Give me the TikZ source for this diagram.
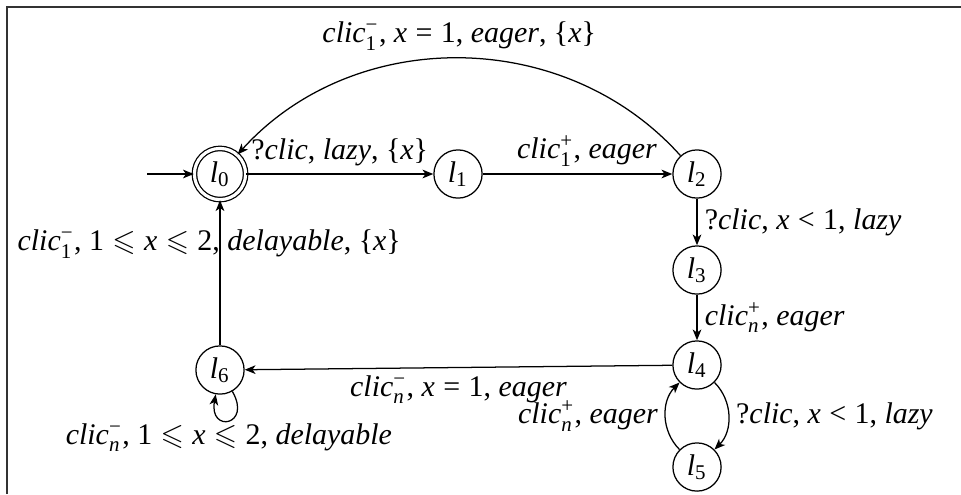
\documentclass[tikz,border=0pt]{standalone}
\usepackage{amsmath,amssymb}
\usepackage{fontspec}
\setmainfont{Liberation Serif}
\usetikzlibrary{arrows.meta}
\newcommand\mi[1]{\textit{#1}}
\newcommand\sud[2]{$^{\text{\upshape #1}}_{\text{#2}}$}
\newcommand\rl[1]{\hspace{0.28em}#1\hspace{0.28em}}
\newcommand\loc[1]{\mi{l}$_{\text{#1}}$}
\tikzset{
  st/.style={circle,draw,minimum size=16.1pt,inner sep=0pt,line width=0.42pt},
  acc/.style={st,minimum size=17.1pt,double,double distance=1.05pt},
  tr/.style={line width=0.42pt,-{Stealth[length=3.6pt,width=2.9pt,inset=1pt]}},
  frame/.style={line width=0.42pt,draw=black!80}
}
\begin{document}
\begin{tikzpicture}[x=0.334pt,y=-0.334pt,inner sep=2.4pt]
\useasboundingbox (0,0) rectangle (961,494);
\draw[frame] (7,494) -- (7,7) -- (961,7);
\node[acc] (l0) at (220,174) {\loc{0}};
\node[st] (l1) at (458,174) {\loc{1}};
\node[st] (l2) at (697,174) {\loc{2}};
\node[st] (l3) at (697,270) {\loc{3}};
\node[st] (l4) at (697,365) {\loc{4}};
\node[st] (l5) at (697,467) {\loc{5}};
\node[st] (l6) at (220,370) {\loc{6}};
\coordinate (init) at (147,174);
\draw[tr] (init) -- (l0);
\draw[tr] (l0) -- node[above] {?\mi{clic}, \mi{lazy}, \{\mi{x}\}} (l1);
\draw[tr] (l1) -- node[above,pos=0.55] {\mi{clic}\sud{+}{1}, \mi{eager}} (l2);
\draw[tr] (l2) to[bend right=48] node[above] {\mi{clic}\sud{−}{1}, \mi{x}\rl{=}1, \mi{eager}, \{\mi{x}\}} (l0);
\draw[tr] (l2) -- node[right] {?\mi{clic}, \mi{x}\rl{<}1, \mi{lazy}} (l3);
\draw[tr] (l3) -- node[right] {\mi{clic}\sud{+}{\mi{n}}, \mi{eager}} (l4);
\draw[tr] (l4) -- node[below] {\mi{clic}\sud{−}{\mi{n}}, \mi{x}\rl{=}1, \mi{eager}} (l6);
\draw[tr] (l4) to[bend left=45] node[right] {?\mi{clic}, \mi{x}\rl{<}1, \mi{lazy}} (l5);
\draw[tr] (l5) to[bend left=45] node[left,pos=0.5] {\mi{clic}\sud{+}{\mi{n}}, \mi{eager}} (l4);
\draw[tr] (l6) -- node[pos=0.7,xshift=-3.6pt] {\mi{clic}\sud{−}{1}, 1\rl{$\leqslant$}\mi{x}\rl{$\leqslant$}2, \mi{delayable}, \{\mi{x}\}} (l0);
\draw[tr] (l6) to[out=-60,in=-100,looseness=6] node[below,yshift=1.5pt] {\mi{clic}\sud{−}{\mi{n}}, 1\rl{$\leqslant$}\mi{x}\rl{$\leqslant$}2, \mi{delayable}} (l6);
\end{tikzpicture}
\end{document}
